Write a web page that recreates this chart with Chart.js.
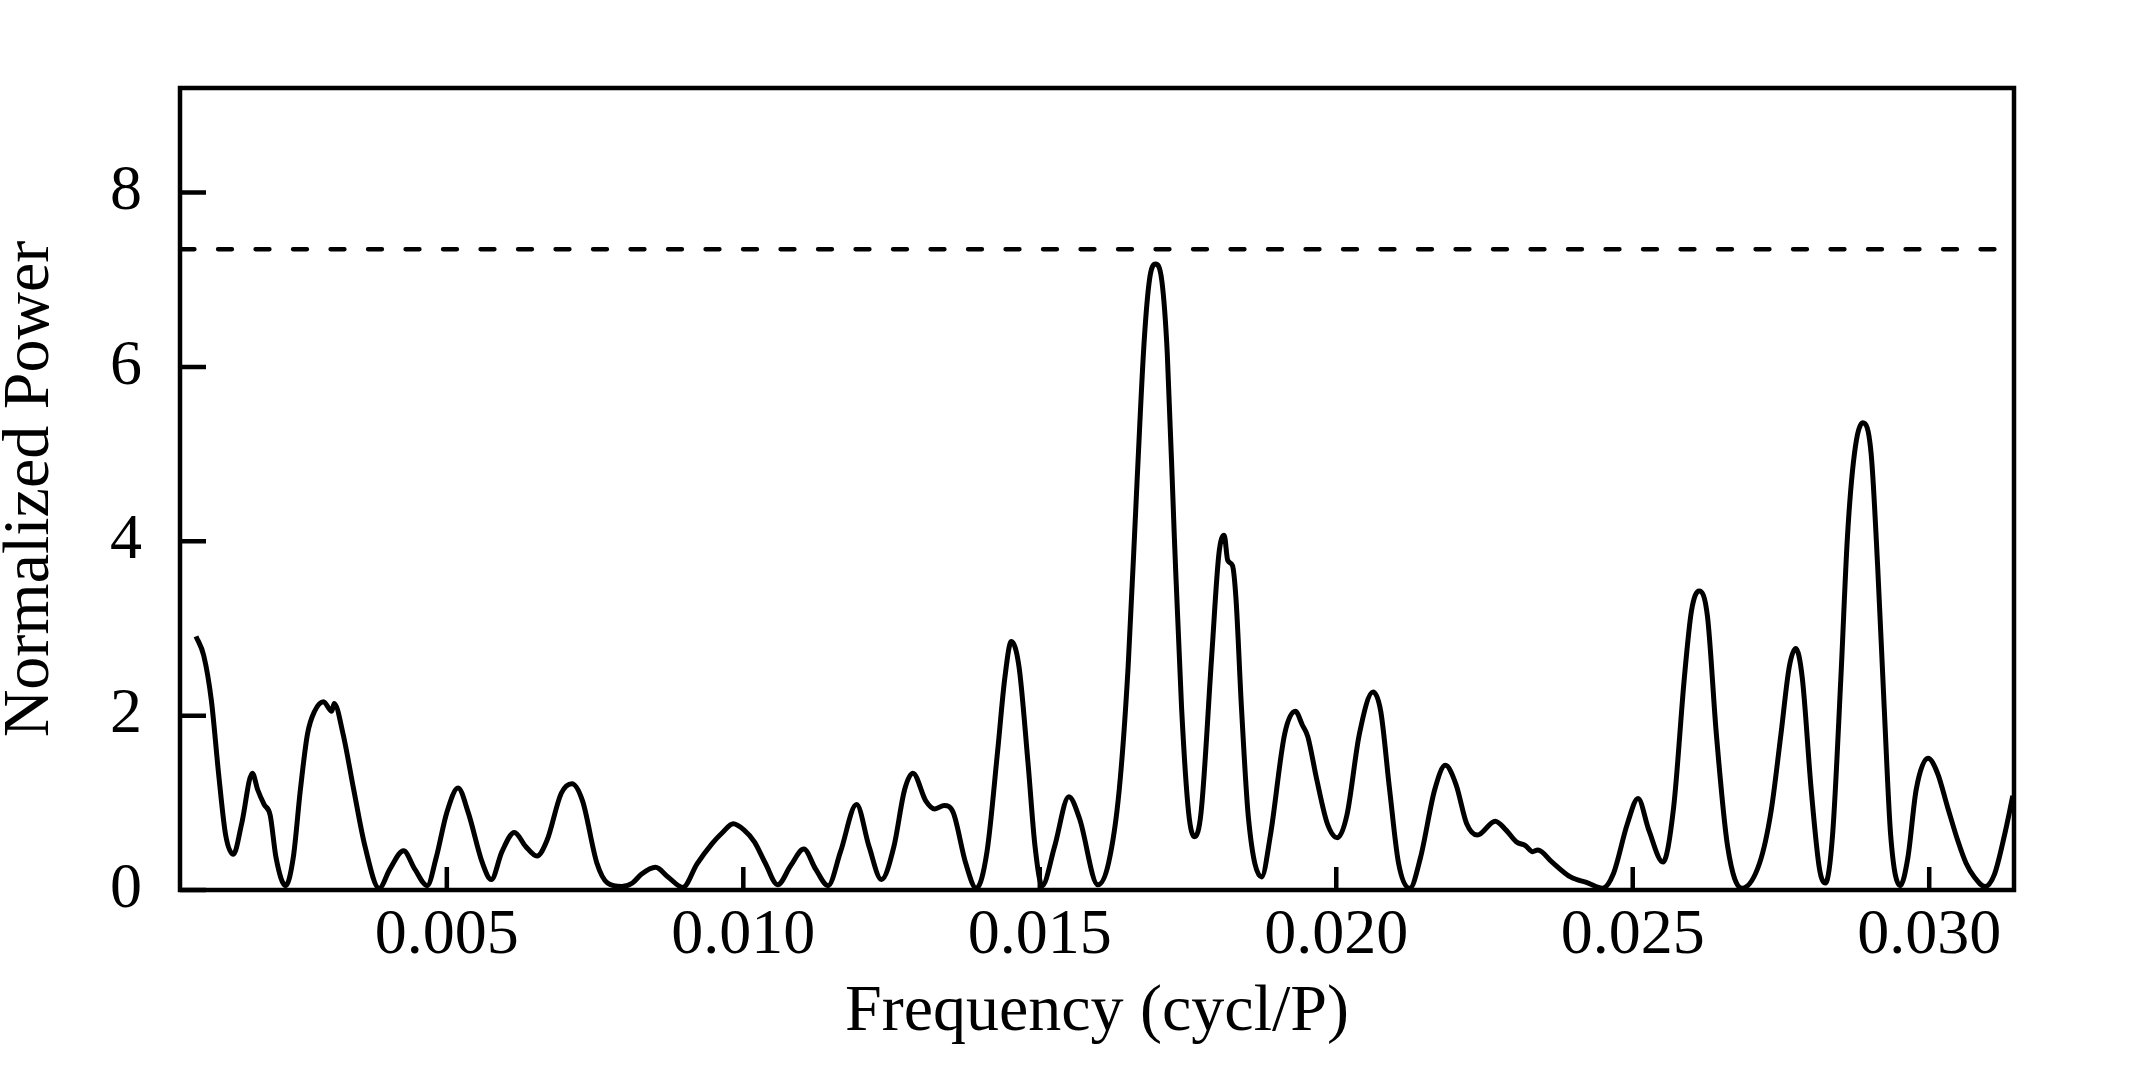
<!DOCTYPE html>
<html lang="en">
<head>
<meta charset="UTF-8">
<title>Normalized Power</title>
<script src="https://cdn.jsdelivr.net/npm/chart.js"></script>
<style>
  html, body { margin: 0; padding: 0; background: #fff; overflow: hidden; }
  canvas { display: block; }
</style>
</head>
<body>
<canvas id="grafico" width="2134" height="1071"></canvas>
<script>
// periodogram values
const frecuencia = [
  0.00077, 0.00090, 0.00103, 0.00115, 0.00127, 0.00140, 0.00154, 0.00172, 0.00181, 0.00192,
  0.00202, 0.00212, 0.00228, 0.00241, 0.00253, 0.00265, 0.00277, 0.00292, 0.00306, 0.00310,
  0.00325, 0.00343, 0.00362, 0.00386, 0.00404, 0.00427, 0.00446, 0.00467, 0.00482, 0.00500,
  0.00519, 0.00536, 0.00560, 0.00575, 0.00593, 0.00614, 0.00633, 0.00652, 0.00669, 0.00693,
  0.00711, 0.00729, 0.00753, 0.00771, 0.00795, 0.00813, 0.00828, 0.00852, 0.00873, 0.00898,
  0.00922, 0.00947, 0.00965, 0.00983, 0.01001, 0.01019, 0.01037, 0.01058, 0.01080, 0.01102,
  0.01122, 0.01143, 0.01164, 0.01191, 0.01212, 0.01233, 0.01254, 0.01272, 0.01286, 0.01308,
  0.01323, 0.01339, 0.01354, 0.01375, 0.01393, 0.01411, 0.01429, 0.01441, 0.01452, 0.01465,
  0.01480, 0.01492, 0.01504, 0.01525, 0.01549, 0.01567, 0.01598, 0.01616, 0.01634, 0.01649,
  0.01664, 0.01676, 0.01685, 0.01695, 0.01706, 0.01715, 0.01727, 0.01739, 0.01751, 0.01761,
  0.01772, 0.01790, 0.01802, 0.01811, 0.01817, 0.01825, 0.01831, 0.01840, 0.01852, 0.01874,
  0.01889, 0.01913, 0.01931, 0.01943, 0.01952, 0.01967, 0.01985, 0.02002, 0.02018, 0.02039,
  0.02062, 0.02075, 0.02090, 0.02105, 0.02124, 0.02142, 0.02166, 0.02184, 0.02202, 0.02220,
  0.02238, 0.02268, 0.02286, 0.02304, 0.02319, 0.02331, 0.02340, 0.02364, 0.02395, 0.02425,
  0.02449, 0.02467, 0.02491, 0.02509, 0.02527, 0.02551, 0.02569, 0.02587, 0.02599, 0.02612,
  0.02626, 0.02641, 0.02660, 0.02684, 0.02714, 0.02733, 0.02750, 0.02764, 0.02775, 0.02786,
  0.02801, 0.02815, 0.02825, 0.02837, 0.02851, 0.02862, 0.02874, 0.02888, 0.02902, 0.02913,
  0.02924, 0.02935, 0.02951, 0.02964, 0.02978, 0.02998, 0.03014, 0.03031, 0.03048, 0.03062,
  0.03076, 0.03094, 0.03110, 0.03127, 0.03141
];
const potencia = [
  2.91, 2.69, 2.17, 1.34, 0.63, 0.41, 0.76, 1.34, 1.15, 0.98,
  0.86, 0.37, 0.05, 0.37, 1.15, 1.79, 2.05, 2.16, 2.05, 2.14,
  1.79, 1.15, 0.50, 0.02, 0.24, 0.45, 0.24, 0.05, 0.37, 0.89,
  1.17, 0.89, 0.31, 0.12, 0.44, 0.66, 0.50, 0.39, 0.57, 1.11,
  1.22, 1.02, 0.31, 0.08, 0.04, 0.08, 0.18, 0.26, 0.15, 0.03,
  0.30, 0.53, 0.66, 0.76, 0.69, 0.55, 0.31, 0.06, 0.28, 0.47,
  0.24, 0.05, 0.44, 0.98, 0.50, 0.12, 0.50, 1.15, 1.34, 1.02,
  0.93, 0.97, 0.89, 0.31, 0.02, 0.44, 1.60, 2.43, 2.85, 2.56,
  1.47, 0.50, 0.05, 0.50, 1.07, 0.82, 0.06, 0.31, 1.15, 2.56,
  4.68, 6.29, 7.00, 7.18, 6.98, 6.16, 4.04, 2.11, 0.89, 0.61,
  0.89, 2.69, 3.85, 4.07, 3.78, 3.72, 3.33, 2.11, 0.82, 0.15,
  0.63, 1.79, 2.05, 1.89, 1.76, 1.27, 0.76, 0.60, 0.86, 1.79,
  2.27, 2.05, 1.15, 0.31, 0.02, 0.37, 1.15, 1.43, 1.21, 0.76,
  0.63, 0.79, 0.69, 0.55, 0.51, 0.44, 0.46, 0.32, 0.15, 0.08,
  0.02, 0.18, 0.76, 1.05, 0.69, 0.32, 0.95, 2.43, 3.20, 3.43,
  3.14, 1.79, 0.50, 0.02, 0.31, 0.89, 1.79, 2.56, 2.77, 2.43,
  1.15, 0.24, 0.08, 0.63, 2.43, 4.04, 5.01, 5.36, 5.01, 3.72,
  2.11, 0.63, 0.05, 0.37, 1.15, 1.51, 1.34, 0.95, 0.57, 0.31,
  0.15, 0.04, 0.18, 0.63, 1.08
];
const umbral = 7.35;   // dashed significance level
const xTicks = [0.005, 0.010, 0.015, 0.020, 0.025, 0.030];
const yTicks = [0, 2, 4, 6, 8];
const xMin = 0.0005, xMax = 0.03143;
const yMin = 0, yMax = 9.2;

const fuente = 'Liberation Serif, Times New Roman, serif';

// box around the plot + inward tick marks (R style)
const marco = {
  id: 'marco',
  afterDatasetsDraw(chart) {
    const { ctx, chartArea: a, scales } = chart;
    ctx.save();
    ctx.strokeStyle = '#000';
    ctx.lineWidth = 4.5;
    ctx.strokeRect(a.left, a.top, a.right - a.left, a.bottom - a.top);
    ctx.beginPath();
    xTicks.forEach(v => {
      const px = scales.x.getPixelForValue(v);
      ctx.moveTo(px, a.bottom);
      ctx.lineTo(px, a.bottom - 23);
    });
    yTicks.forEach(v => {
      const py = scales.y.getPixelForValue(v);
      ctx.moveTo(a.left, py);
      ctx.lineTo(a.left + 26, py);
    });
    ctx.stroke();
    ctx.restore();
  }
};

const ctx = document.getElementById('grafico').getContext('2d');
new Chart(ctx, {
  type: 'line',
  data: {
    datasets: [{
      label: 'Power',
      data: frecuencia.map((f, i) => ({ x: f, y: potencia[i] })),
      borderColor: '#000',
      borderWidth: 5,
      pointRadius: 0,
      fill: false,
      cubicInterpolationMode: 'monotone'
    }, {
      label: 'Threshold',
      data: [{ x: xMin, y: umbral }, { x: xMax, y: umbral }],
      borderColor: '#000',
      borderWidth: 4.3,
      borderCapStyle: 'round',
      borderDash: [14, 23.5],
      borderDashOffset: 37,
      pointRadius: 0,
      fill: false
    }]
  },
  options: {
    responsive: false,
    animation: false,
    devicePixelRatio: 1,
    layout: { padding: { top: 88, right: 120, left: 0, bottom: 0 } },
    plugins: {
      legend: { display: false },
      tooltip: { enabled: false }
    },
    scales: {
      x: {
        type: 'linear',
        min: xMin,
        max: xMax,
        afterBuildTicks: s => { s.ticks = xTicks.map(v => ({ value: v })); },
        afterFit: s => { s.height = 181; },
        grid: { display: false, drawTicks: false },
        border: { display: false },
        ticks: {
          padding: 8,
          color: '#000',
          autoSkip: false,
          maxRotation: 0,
          font: { family: fuente, size: 64 },
          callback: v => v.toFixed(3)
        },
        title: {
          display: true,
          text: 'Frequency (cycl/P)',
          color: '#000',
          font: { family: fuente, size: 66 },
          padding: { top: 0, bottom: 19 }
        }
      },
      y: {
        min: yMin,
        max: yMax,
        afterBuildTicks: s => { s.ticks = yTicks.map(v => ({ value: v })); },
        afterFit: s => { s.width = 180; },
        grid: { display: false, drawTicks: false },
        border: { display: false },
        ticks: {
          padding: 38,
          color: '#000',
          font: { family: fuente, size: 64 },
          callback: v => String(v)
        },
        title: {
          display: true,
          text: 'Normalized Power',
          color: '#000',
          font: { family: fuente, size: 66, lineHeight: 0.94 },
          padding: 0
        }
      }
    }
  },
  plugins: [marco]
});
</script>
</body>
</html>
